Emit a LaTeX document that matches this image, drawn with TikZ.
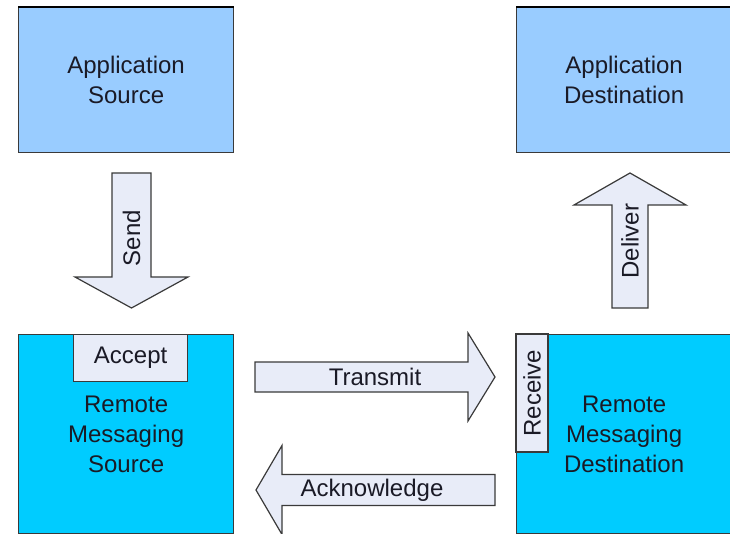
\documentclass[tikz,border=0pt]{standalone}
\usepackage{fontspec}
\setmainfont{Liberation Sans}
\definecolor{appblue}{HTML}{99CCFF}
\definecolor{msgblue}{HTML}{00CCFF}
\definecolor{tabfill}{HTML}{E8ECF8}
\definecolor{edge}{HTML}{3A3A3A}
\definecolor{ink}{HTML}{1A1A26}
\tikzset{
  box/.style={draw=edge, line width=1.2pt, rectangle, anchor=north west,
    align=center, text=ink, inner sep=0pt,
    font=\fontsize{24}{30}\selectfont},
  appbox/.style={box, fill=appblue, minimum width=215pt, minimum height=145pt},
  msgbox/.style={box, fill=msgblue, minimum width=215pt, minimum height=199pt},
  tab/.style={box, fill=tabfill},
  blockarrow/.style={draw=edge, line width=1.2pt, fill=tabfill, line join=miter},
  arrowlabel/.style={text=ink, inner sep=0pt, font=\fontsize{24}{30}\selectfont},
}
\begin{document}
\begin{tikzpicture}[x=1pt, y=-1pt]
\useasboundingbox (0,0) rectangle (730,534);

% application end points
\node[appbox] (appsrc) at (18,7) {Application\\Source};
\node[appbox] (appdst) at (516,7) {Application\\Destination};
\draw[black, line width=2pt] (appsrc.north west) -- (appsrc.north east);
\draw[black, line width=2pt] (appdst.north west) -- (appdst.north east);

% messaging systems
\node[msgbox] (msgsrc) at (18,334) {Remote\\Messaging\\Source};
\node[msgbox] (msgdst) at (516,334) {Remote\\Messaging\\Destination};

% tabs on the messaging systems
\node[tab, minimum width=114pt, minimum height=47pt] (accept) at (73,334) {Accept};
\node[tab, minimum width=118pt, minimum height=32pt, anchor=center, rotate=90]
  (receive) at (532,393) {Receive};

% Send (down)
\draw[blockarrow] (112,173) -- (151,173) -- (151,277) -- (188,277)
  -- (131.5,308) -- (75,277) -- (112,277) -- cycle;
\node[arrowlabel, rotate=90] (send) at (131.5,238) {Send};

% Deliver (up)
\draw[blockarrow] (612,308) -- (648,308) -- (648,205) -- (686,205)
  -- (630,173) -- (574,205) -- (612,205) -- cycle;
\node[arrowlabel, rotate=90] (deliver) at (630,241) {Deliver};

% Transmit (right)
\draw[blockarrow] (255,362) -- (468,362) -- (468,333) -- (495,377)
  -- (468,421) -- (468,392) -- (255,392) -- cycle;
\node[arrowlabel] (transmit) at (375,377) {Transmit};

% Acknowledge (left)
\draw[blockarrow] (495,474.5) -- (282,474.5) -- (282,445.5) -- (256,490)
  -- (282,534.5) -- (282,505.5) -- (495,505.5) -- cycle;
\node[arrowlabel] (ack) at (372,490) {Acknowledge};
\end{tikzpicture}
\end{document}
